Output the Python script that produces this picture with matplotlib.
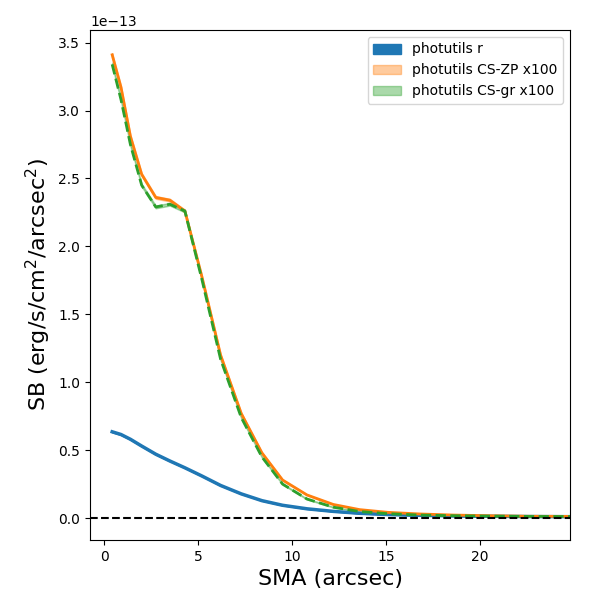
import matplotlib
matplotlib.use("Agg")
import matplotlib.pyplot as plt
import numpy as np

# semi-major axis (arcsec)
sma = [0.43, 0.9, 1.4, 2.0, 2.75, 3.5, 4.3, 5.2, 6.2, 7.3, 8.4, 9.5, 10.8,
       12.2, 13.6, 15.1, 16.8, 18.6, 20.5, 22.6, 24.8]

# surface brightness in units of 1e-13
sb_r = [0.635, 0.615, 0.58, 0.53, 0.47, 0.42, 0.37, 0.31, 0.24, 0.178, 0.128,
        0.094, 0.068, 0.049, 0.035, 0.026, 0.02, 0.016, 0.013, 0.011, 0.010]
sb_zp = [3.41, 3.17, 2.81, 2.53, 2.36, 2.34, 2.26, 1.78, 1.20, 0.77, 0.48,
         0.28, 0.17, 0.10, 0.062, 0.042, 0.030, 0.022, 0.017, 0.013, 0.012]
sb_gr = [3.34, 3.08, 2.75, 2.45, 2.29, 2.31, 2.26, 1.76, 1.17, 0.74, 0.45,
         0.25, 0.14, 0.08, 0.048, 0.032, 0.022, 0.017, 0.014, 0.012, 0.011]

# errors (same units)
err_r = [0.004, 0.004, 0.003, 0.003, 0.003, 0.002, 0.002, 0.002, 0.002, 0.001,
         0.001, 0.001, 0.001, 0.001, 0.001, 0.001, 0.001, 0.001, 0.001, 0.001, 0.001]
err_zp = [0.012, 0.012, 0.012, 0.01, 0.01, 0.01, 0.01, 0.008, 0.007, 0.006, 0.005,
          0.004, 0.003, 0.003, 0.002, 0.002, 0.002, 0.002, 0.002, 0.002, 0.002]
err_gr = [0.012, 0.012, 0.012, 0.01, 0.01, 0.01, 0.01, 0.008, 0.007, 0.006, 0.005,
          0.004, 0.003, 0.003, 0.002, 0.002, 0.002, 0.002, 0.002, 0.002, 0.002]

scale = 1e-13
x = np.array(sma)
r = np.array(sb_r) * scale
zp = np.array(sb_zp) * scale
gr = np.array(sb_gr) * scale
er = np.array(err_r) * scale
ezp = np.array(err_zp) * scale
egr = np.array(err_gr) * scale

fig = plt.figure(figsize=(6, 6), dpi=100)
ax = fig.add_axes([0.15, 0.1, 0.8, 0.85])

ax.fill_between(x, r - er, r + er, color='C0', alpha=1.0, label='photutils r')
ax.plot(x, r, color='C0', lw=2.5)

ax.fill_between(x, zp - ezp, zp + ezp, color='C1', alpha=0.4, label='photutils CS-ZP x100')
ax.plot(x, zp, color='C1', lw=2)

ax.fill_between(x, gr - egr, gr + egr, color='C2', alpha=0.4, label='photutils CS-gr x100')
ax.plot(x, gr, color='C2', lw=2, ls='--')

ax.axhline(0, color='k', ls='--', lw=1.5)

ax.set_xlim(-0.75, 24.8)
ax.set_xlabel('SMA (arcsec)', fontsize=16)
ax.set_ylabel('SB (erg/s/cm$^2$/arcsec$^2$)', fontsize=16)
ax.legend(loc='upper right')

plt.savefig('out.png', dpi=100)
